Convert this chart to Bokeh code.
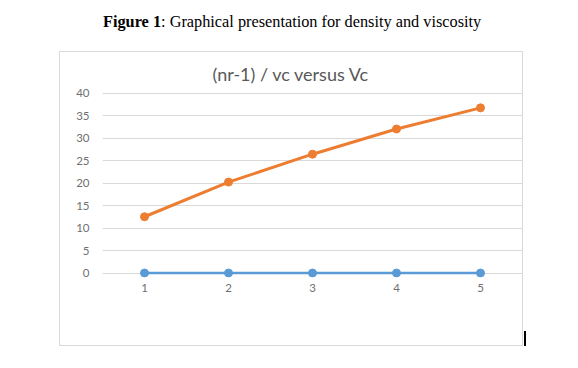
from bokeh.plotting import figure
from bokeh.models import ColumnDataSource, FixedTicker, Range1d, Div, Spacer
from bokeh.layouts import column, row
from bokeh.embed import file_html
from bokeh.resources import INLINE

categories = [1, 2, 3, 4, 5]
series_blue = [0, 0, 0, 0, 0]
series_orange = [12.5, 20.2, 26.4, 32.0, 36.7]
y_ticks = [0, 5, 10, 15, 20, 25, 30, 35, 40]
chart_title = "(nr-1) / vc versus Vc"

p = figure(width=464, height=295, output_backend="svg", toolbar_location=None,
           x_range=Range1d(0.5, 5.5), y_range=Range1d(-1, 41),
           min_border_left=42, min_border_right=2, min_border_top=36, min_border_bottom=70,
           styles={"border": "1px solid #D9D9D9"})
p.outline_line_color = None
p.background_fill_color = "white"
p.border_fill_color = "white"
p.title.text = chart_title
p.title.align = "left"
p.title.offset = 110
p.title.text_font = "Lato"
p.title.text_font_size = "18px"
p.title.text_font_style = "normal"
p.title.text_color = "#595959"
p.title.standoff = 8

src = ColumnDataSource(dict(x=categories, b=series_blue, o=series_orange))
p.line("x", "b", source=src, line_color="#5B9BD5", line_width=2.5)
p.scatter("x", "b", source=src, size=8, fill_color="#5B9BD5", line_color="#5B9BD5")
p.line("x", "o", source=src, line_color="#ED7D31", line_width=3)
p.scatter("x", "o", source=src, size=8, fill_color="#ED7D31", line_color="#ED7D31")

p.xgrid.grid_line_color = None
p.ygrid.grid_line_color = "#D9D9D9"
p.ygrid.ticker = FixedTicker(ticks=y_ticks)
p.yaxis.ticker = FixedTicker(ticks=y_ticks)
p.xaxis.ticker = FixedTicker(ticks=categories)
for ax in (p.xaxis[0], p.yaxis[0]):
    ax.axis_line_color = None
    ax.major_tick_line_color = None
    ax.minor_tick_line_color = None
    ax.major_label_text_font = "Lato"
    ax.major_label_text_font_size = "11.5px"
    ax.major_label_text_color = "#6f6f6f"
p.xaxis.major_label_standoff = 0
p.yaxis.major_label_standoff = 7

caption = Div(text='<div style="font-family:\'Liberation Serif\'; font-size:16.3px; color:black; '
                   'white-space:nowrap; position:relative; left:103px; top:10px;">'
                   '<b>Figure 1</b>: Graphical presentation for density and viscosity</div>',
              width=578, height=51, margin=0)
cursor = Div(text="", width=2, height=15, margin=(280, 0, 0, 1),
             styles={"background-color": "black"})
layout = column(caption, row(Spacer(width=59, height=10), p, cursor, spacing=0), spacing=0)

open("out.html", "w").write(file_html(layout, INLINE))
